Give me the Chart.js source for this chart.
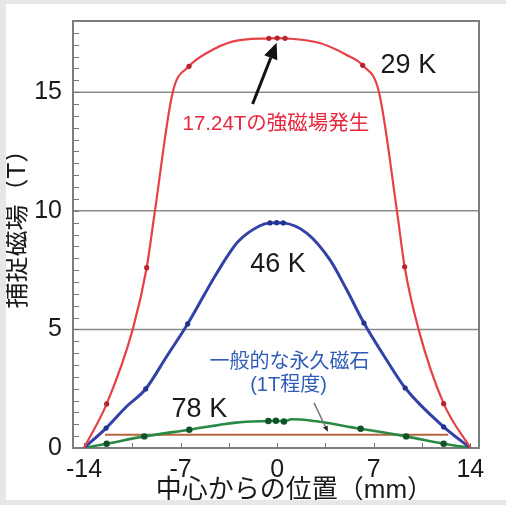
<!DOCTYPE html>
<html>
<head>
<meta charset="utf-8">
<script src="https://cdn.jsdelivr.net/npm/chart.js@4.4.0/dist/chart.umd.min.js"></script>
<style>
  html, body { margin: 0; padding: 0; background: #e6e7e9; }
  #wrap { position: absolute; left: 6px; top: 4px; width: 500px; height: 496px; background: #fff; }
</style>
</head>
<body>
<div id="wrap"><canvas id="c" width="500" height="496"></canvas></div>
<script>
// 29 K (red)
const x29 = [-14, -12.36, -10.47, -9.46, -8.86, -7.57, -6.39, -5.1, -3.18, -0.6, 0, 0.57, 3.08, 5.0, 6.2, 7.38, 8.68, 9.24, 10.25, 12.07, 14];
const y29 = [0, 1.86, 5, 7.6, 10, 15, 16.09, 16.65, 17.14, 17.27, 17.28, 17.27, 17.07, 16.58, 16.13, 15, 10, 7.64, 5, 1.87, 0];
const marks29 = [1, 3, 6, 9, 10, 11, 14, 17, 19];

// 46 K (blue)
const x46 = [-14, -12.4, -10.9, -9.53, -8.0, -6.49, -4.38, -2.83, -1.25, -0.52, -0.04, 0.44, 2.14, 3.83, 5.04, 6.29, 7.91, 9.28, 12.07, 14];
const y46 = [0, 0.84, 1.76, 2.49, 3.87, 5.23, 7.37, 8.7, 9.37, 9.49, 9.5, 9.49, 9.06, 7.93, 6.67, 5.27, 3.73, 2.53, 0.89, 0];
const marks46 = [1, 3, 5, 9, 10, 11, 15, 17, 18];

// 78 K (green)
const x78 = [-14, -12.36, -9.63, -6.37, -3.0, -0.64, -0.09, 0.49, 1.05, 6.05, 9.35, 12.07, 14];
const y78 = [0, 0.18, 0.49, 0.77, 1.07, 1.14, 1.15, 1.12, 1.21, 0.81, 0.49, 0.18, 0];
const marks78 = [1, 2, 3, 5, 6, 7, 9, 10, 11];

// ordinary permanent magnet level (~1T mark)
const xMagnet = [-12.48, 12.4];
const yMagnet = [0.56, 0.56];

const xTicks = [-14, -7, 0, 7, 14];
const yTicks = [0, 5, 10, 15];

const FONT = "'Liberation Sans', 'Noto Sans CJK JP', sans-serif";

function pts(xs, ys) { return xs.map((x, i) => ({ x: x, y: ys[i] })); }
function markRadius(list, r) { return ctx => list.includes(ctx.dataIndex) ? r : 0; }
function noPad(s) { s.paddingTop = 0; s.paddingBottom = 0; s.paddingLeft = 0; s.paddingRight = 0; }

const frame = {
  id: 'frame',
  beforeDatasetsDraw(chart) {
    const { ctx, chartArea: a, scales: { x, y } } = chart;
    ctx.save();
    // gridlines
    ctx.strokeStyle = '#8a8a8a';
    ctx.lineWidth = 1.5;
    yTicks.filter(v => v > 0).forEach(v => {
      const py = y.getPixelForValue(v);
      ctx.beginPath(); ctx.moveTo(a.left, py); ctx.lineTo(a.right, py); ctx.stroke();
    });
    // inward minor ticks
    ctx.strokeStyle = '#777';
    ctx.lineWidth = 1;
    for (let v = 0.5; v < y.max; v += 0.5) {
      const py = Math.round(y.getPixelForValue(v)) + 0.5;
      ctx.beginPath(); ctx.moveTo(a.left, py); ctx.lineTo(a.left + 6, py); ctx.stroke();
    }
    for (let v = -14; v <= 14; v += 3.5) {
      const px = Math.round(x.getPixelForValue(v)) + 0.5;
      ctx.beginPath(); ctx.moveTo(px, a.bottom); ctx.lineTo(px, a.bottom - 5); ctx.stroke();
    }
    // box
    ctx.strokeStyle = '#7d7d7d';
    ctx.lineWidth = 2;
    ctx.strokeRect(a.left, a.top, a.right - a.left, a.bottom - a.top);
    ctx.restore();
  }
};

function arrow(ctx, x0, y0, x1, y1, color, headColor, lw, hl, hw) {
  const ang = Math.atan2(y1 - y0, x1 - x0);
  const bx = x1 - hl * Math.cos(ang), by = y1 - hl * Math.sin(ang);
  ctx.strokeStyle = color; ctx.lineWidth = lw;
  ctx.beginPath(); ctx.moveTo(x0, y0); ctx.lineTo(bx, by); ctx.stroke();
  ctx.fillStyle = headColor;
  ctx.beginPath();
  ctx.moveTo(x1, y1);
  ctx.lineTo(bx + hw / 2 * Math.sin(ang), by - hw / 2 * Math.cos(ang));
  ctx.lineTo(bx - hw / 2 * Math.sin(ang), by + hw / 2 * Math.cos(ang));
  ctx.closePath(); ctx.fill();
}

const notes = {
  id: 'notes',
  afterDatasetsDraw(chart) {
    const { ctx, chartArea: a, scales: { x, y } } = chart;
    const X = v => x.getPixelForValue(v), Y = v => y.getPixelForValue(v);
    ctx.save();
    ctx.textAlign = 'center';
    ctx.textBaseline = 'middle';
    ctx.fillStyle = '#1a1a1a';
    ctx.font = '27px ' + FONT;
    ctx.fillText('29 K', X(9.51), Y(16.12));
    ctx.fillText('46 K', X(0.06), Y(7.72));
    ctx.fillText('78 K', X(-5.64), Y(1.6));
    ctx.fillStyle = '#e8273d';
    ctx.font = '20.5px ' + FONT;
    ctx.fillText('17.24Tの強磁場発生', X(-0.09), Y(13.63));
    ctx.fillStyle = '#2f5cb8';
    ctx.font = '20px ' + FONT;
    ctx.fillText('一般的な永久磁石', X(0.89), Y(3.59));
    ctx.fillText('(1T程度)', X(0.82), Y(2.62));
    arrow(ctx, X(-1.78), Y(14.5), X(-0.04), Y(17.08), '#111', '#111', 3, 16, 14);
    arrow(ctx, X(2.67), Y(1.9), X(3.68), Y(0.68), '#777', '#222', 1.5, 6, 5);

    // axis titles
    ctx.fillStyle = '#1a1a1a';
    ctx.font = '26px ' + FONT;
    ctx.fillText('中心からの位置（mm）', X(1.25), a.bottom + 43);
    ctx.translate(a.left - 55, Y(9.5));
    ctx.rotate(-Math.PI / 2);
    ctx.fillText('捕捉磁場（T）', 0, 0);
    ctx.restore();
  }
};

new Chart(document.getElementById('c'), {
  type: 'scatter',
  data: {
    datasets: [
      {
        label: '29 K', data: pts(x29, y29), showLine: true, cubicInterpolationMode: 'monotone',
        borderColor: '#e64146', borderWidth: 2.2, pointRadius: markRadius(marks29, 2.6),
        pointBackgroundColor: '#b8232c', pointBorderWidth: 0
      },
      {
        label: '46 K', data: pts(x46, y46), showLine: true, cubicInterpolationMode: 'monotone',
        borderColor: '#3242a6', borderWidth: 3, pointRadius: markRadius(marks46, 2.6),
        pointBackgroundColor: '#223290', pointBorderWidth: 0
      },
      {
        label: '78 K', data: pts(x78, y78), showLine: true, cubicInterpolationMode: 'monotone',
        borderColor: '#2a8a45', borderWidth: 2.6, pointRadius: markRadius(marks78, 3.2),
        pointBackgroundColor: '#0e5428', pointBorderWidth: 0
      },
      {
        label: '1T', data: pts(xMagnet, yMagnet), showLine: true,
        borderColor: '#b5653c', borderWidth: 2, pointRadius: 0
      }
    ]
  },
  options: {
    responsive: false,
    animation: false,
    layout: { padding: { top: 17, right: 27, left: 0, bottom: 0 } },
    plugins: { legend: { display: false }, tooltip: { enabled: false } },
    scales: {
      x: {
        type: 'linear', min: -14.8, max: 14.63,
        afterBuildTicks: s => { s.ticks = xTicks.map(v => ({ value: v })); },
        afterFit: s => { s.height = 52; noPad(s); },
        grid: { display: false, drawTicks: false },
        border: { display: false },
        ticks: { color: '#1a1a1a', font: { size: 25, family: FONT }, padding: 7, maxRotation: 0 }
      },
      y: {
        type: 'linear', min: 0, max: 18,
        afterBuildTicks: s => { s.ticks = yTicks.map(v => ({ value: v })); },
        afterFit: s => { s.width = 67; noPad(s); },
        grid: { display: false, drawTicks: false },
        border: { display: false },
        ticks: { color: '#1a1a1a', font: { size: 25, family: FONT }, padding: 11 }
      }
    }
  },
  plugins: [frame, notes]
});
</script>
</body>
</html>
